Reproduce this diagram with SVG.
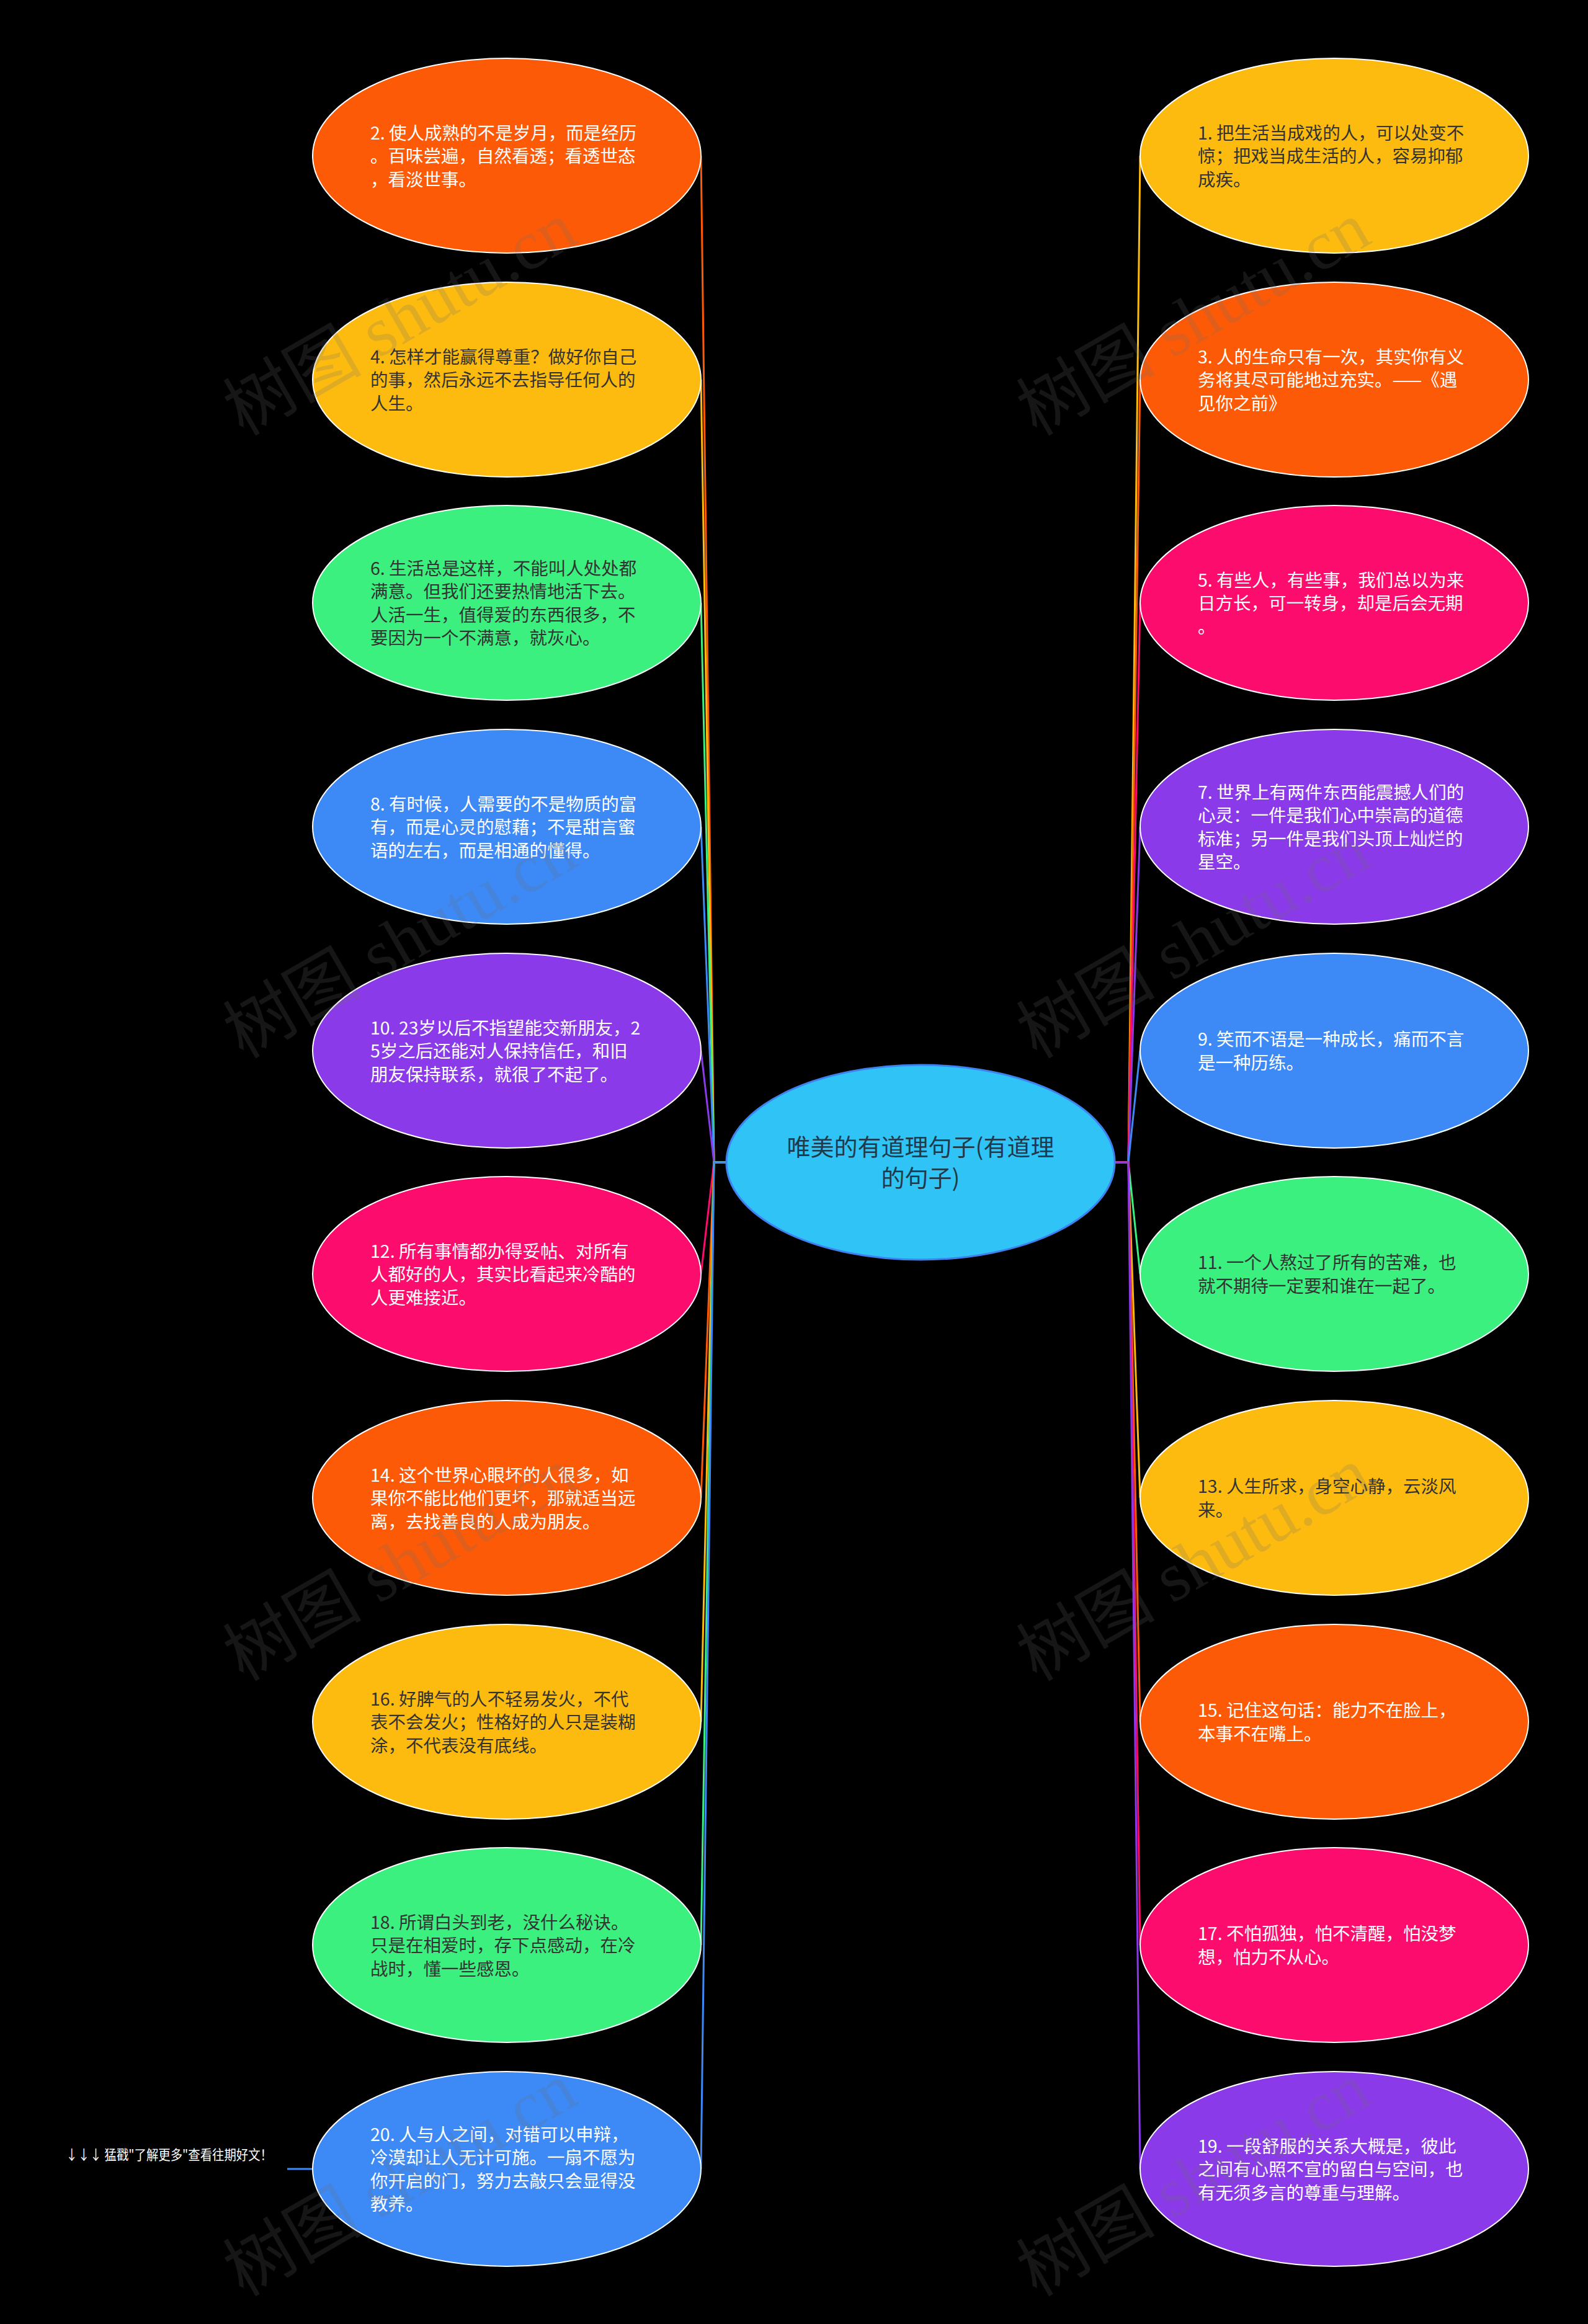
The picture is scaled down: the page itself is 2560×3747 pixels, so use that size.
<svg xmlns="http://www.w3.org/2000/svg" width="2560" height="3747" viewBox="0 0 2560 3747">
<style>
.bg{fill:#000}
.n{stroke:#ffffff;stroke-width:2}
.or{fill:#fd5a08}.ye{fill:#fdbb10}.gr{fill:#3cf080}.bl{fill:#3d8af7}.pu{fill:#8a3ae8}.pk{fill:#fc0c6c}
.t{font-family:"Noto Sans CJK SC","Noto Sans",sans-serif;font-size:28.5px;dominant-baseline:central}
.w{fill:#ffffff}.d{fill:#333333}
.c{fill:none;stroke-width:3;stroke-linejoin:round}
.cor{stroke:#fd5a08}.cye{stroke:#fdbb10}.cgr{stroke:#3cf080}.cbl{stroke:#3d8af7}.cpu{stroke:#8a3ae8}.cpk{stroke:#fc0c6c}
.wm{font-family:"Liberation Serif","Noto Sans CJK SC",serif;font-size:112px;fill:#6e6e6e;opacity:0.2;text-anchor:middle;dominant-baseline:central}
</style>
<rect class="bg" x="0" y="0" width="2560" height="3747"/>
<g id="connectors">
<path class="c cor" d="M1171 1874 L1151 1874 L1130 251"/>
<path class="c cye" d="M1171 1874 L1151 1874 L1130 612"/>
<path class="c cgr" d="M1171 1874 L1151 1874 L1130 972"/>
<path class="c cbl" d="M1171 1874 L1151 1874 L1130 1333"/>
<path class="c cpu" d="M1171 1874 L1151 1874 L1130 1694"/>
<path class="c cpk" d="M1171 1874 L1151 1874 L1130 2054"/>
<path class="c cor" d="M1171 1874 L1151 1874 L1130 2415"/>
<path class="c cye" d="M1171 1874 L1151 1874 L1130 2776"/>
<path class="c cgr" d="M1171 1874 L1151 1874 L1130 3136"/>
<path class="c cbl" d="M1171 1874 L1151 1874 L1130 3497"/>
<path class="c cye" d="M1797 1874 L1819 1874 L1838 251"/>
<path class="c cor" d="M1797 1874 L1819 1874 L1838 612"/>
<path class="c cpk" d="M1797 1874 L1819 1874 L1838 972"/>
<path class="c cpu" d="M1797 1874 L1819 1874 L1838 1333"/>
<path class="c cbl" d="M1797 1874 L1819 1874 L1838 1694"/>
<path class="c cgr" d="M1797 1874 L1819 1874 L1838 2054"/>
<path class="c cye" d="M1797 1874 L1819 1874 L1838 2415"/>
<path class="c cor" d="M1797 1874 L1819 1874 L1838 2776"/>
<path class="c cpk" d="M1797 1874 L1819 1874 L1838 3136"/>
<path class="c cpu" d="M1797 1874 L1819 1874 L1838 3497"/>
<path class="c cbl" d="M505 3497 L463 3497"/>
</g>
<g id="center">
<ellipse cx="1484" cy="1874" rx="313" ry="157" fill="#30c3f6" stroke="#3d82f0" stroke-width="3"/>
<text font-family="'Noto Sans CJK SC','Noto Sans',sans-serif" font-size="38" fill="#1f3a4a" text-anchor="middle" dominant-baseline="central"><tspan x="1484" y="1846">唯美的有道理句子(有道理</tspan><tspan x="1484" y="1896">的句子)</tspan></text>
</g>
<g id="n2"><ellipse class="n or" cx="817" cy="251" rx="313" ry="157"/><text class="t w"><tspan x="597" y="212">2. 使人成熟的不是岁月，而是经历</tspan><tspan x="597" y="249">。百味尝遍，自然看透；看透世态</tspan><tspan x="597" y="287">，看淡世事。</tspan></text></g>
<g id="n4"><ellipse class="n ye" cx="817" cy="612" rx="313" ry="157"/><text class="t d"><tspan x="597" y="573">4. 怎样才能赢得尊重？做好你自己</tspan><tspan x="597" y="610">的事，然后永远不去指导任何人的</tspan><tspan x="597" y="648">人生。</tspan></text></g>
<g id="n6"><ellipse class="n gr" cx="817" cy="972" rx="313" ry="157"/><text class="t d"><tspan x="597" y="914">6. 生活总是这样，不能叫人处处都</tspan><tspan x="597" y="951">满意。但我们还要热情地活下去。</tspan><tspan x="597" y="989">人活一生，值得爱的东西很多，不</tspan><tspan x="597" y="1026">要因为一个不满意，就灰心。</tspan></text></g>
<g id="n8"><ellipse class="n bl" cx="817" cy="1333" rx="313" ry="157"/><text class="t w"><tspan x="597" y="1294">8. 有时候，人需要的不是物质的富</tspan><tspan x="597" y="1331">有，而是心灵的慰藉；不是甜言蜜</tspan><tspan x="597" y="1369">语的左右，而是相通的懂得。</tspan></text></g>
<g id="n10"><ellipse class="n pu" cx="817" cy="1694" rx="313" ry="157"/><text class="t w"><tspan x="597" y="1655">10. 23岁以后不指望能交新朋友，2</tspan><tspan x="597" y="1692">5岁之后还能对人保持信任，和旧</tspan><tspan x="597" y="1730">朋友保持联系，就很了不起了。</tspan></text></g>
<g id="n12"><ellipse class="n pk" cx="817" cy="2054" rx="313" ry="157"/><text class="t w"><tspan x="597" y="2015">12. 所有事情都办得妥帖、对所有</tspan><tspan x="597" y="2052">人都好的人，其实比看起来冷酷的</tspan><tspan x="597" y="2090">人更难接近。</tspan></text></g>
<g id="n14"><ellipse class="n or" cx="817" cy="2415" rx="313" ry="157"/><text class="t w"><tspan x="597" y="2376">14. 这个世界心眼坏的人很多，如</tspan><tspan x="597" y="2413">果你不能比他们更坏，那就适当远</tspan><tspan x="597" y="2451">离，去找善良的人成为朋友。</tspan></text></g>
<g id="n16"><ellipse class="n ye" cx="817" cy="2776" rx="313" ry="157"/><text class="t d"><tspan x="597" y="2737">16. 好脾气的人不轻易发火，不代</tspan><tspan x="597" y="2774">表不会发火；性格好的人只是装糊</tspan><tspan x="597" y="2812">涂，不代表没有底线。</tspan></text></g>
<g id="n18"><ellipse class="n gr" cx="817" cy="3136" rx="313" ry="157"/><text class="t d"><tspan x="597" y="3097">18. 所谓白头到老，没什么秘诀。</tspan><tspan x="597" y="3134">只是在相爱时，存下点感动，在冷</tspan><tspan x="597" y="3172">战时，懂一些感恩。</tspan></text></g>
<g id="n20"><ellipse class="n bl" cx="817" cy="3497" rx="313" ry="157"/><text class="t w"><tspan x="597" y="3439">20. 人与人之间，对错可以申辩，</tspan><tspan x="597" y="3476">冷漠却让人无计可施。一扇不愿为</tspan><tspan x="597" y="3514">你开启的门，努力去敲只会显得没</tspan><tspan x="597" y="3551">教养。</tspan></text></g>
<g id="n1"><ellipse class="n ye" cx="2151" cy="251" rx="313" ry="157"/><text class="t d"><tspan x="1931" y="212">1. 把生活当成戏的人，可以处变不</tspan><tspan x="1931" y="249">惊；把戏当成生活的人，容易抑郁</tspan><tspan x="1931" y="287">成疾。</tspan></text></g>
<g id="n3"><ellipse class="n or" cx="2151" cy="612" rx="313" ry="157"/><text class="t w"><tspan x="1931" y="573">3. 人的生命只有一次，其实你有义</tspan><tspan x="1931" y="610">务将其尽可能地过充实。——《遇</tspan><tspan x="1931" y="648">见你之前》</tspan></text></g>
<g id="n5"><ellipse class="n pk" cx="2151" cy="972" rx="313" ry="157"/><text class="t w"><tspan x="1931" y="933">5. 有些人，有些事，我们总以为来</tspan><tspan x="1931" y="970">日方长，可一转身，却是后会无期</tspan><tspan x="1931" y="1008">。</tspan></text></g>
<g id="n7"><ellipse class="n pu" cx="2151" cy="1333" rx="313" ry="157"/><text class="t w"><tspan x="1931" y="1275">7. 世界上有两件东西能震撼人们的</tspan><tspan x="1931" y="1312">心灵：一件是我们心中崇高的道德</tspan><tspan x="1931" y="1350">标准；另一件是我们头顶上灿烂的</tspan><tspan x="1931" y="1387">星空。</tspan></text></g>
<g id="n9"><ellipse class="n bl" cx="2151" cy="1694" rx="313" ry="157"/><text class="t w"><tspan x="1931" y="1673">9. 笑而不语是一种成长，痛而不言</tspan><tspan x="1931" y="1711">是一种历练。</tspan></text></g>
<g id="n11"><ellipse class="n gr" cx="2151" cy="2054" rx="313" ry="157"/><text class="t d"><tspan x="1931" y="2033">11. 一个人熬过了所有的苦难，也</tspan><tspan x="1931" y="2071">就不期待一定要和谁在一起了。</tspan></text></g>
<g id="n13"><ellipse class="n ye" cx="2151" cy="2415" rx="313" ry="157"/><text class="t d"><tspan x="1931" y="2394">13. 人生所求，身空心静，云淡风</tspan><tspan x="1931" y="2432">来。</tspan></text></g>
<g id="n15"><ellipse class="n or" cx="2151" cy="2776" rx="313" ry="157"/><text class="t w"><tspan x="1931" y="2755">15. 记住这句话：能力不在脸上，</tspan><tspan x="1931" y="2793">本事不在嘴上。</tspan></text></g>
<g id="n17"><ellipse class="n pk" cx="2151" cy="3136" rx="313" ry="157"/><text class="t w"><tspan x="1931" y="3115">17. 不怕孤独，怕不清醒，怕没梦</tspan><tspan x="1931" y="3153">想，怕力不从心。</tspan></text></g>
<g id="n19"><ellipse class="n pu" cx="2151" cy="3497" rx="313" ry="157"/><text class="t w"><tspan x="1931" y="3458">19. 一段舒服的关系大概是，彼此</tspan><tspan x="1931" y="3495">之间有心照不宣的留白与空间，也</tspan><tspan x="1931" y="3533">有无须多言的尊重与理解。</tspan></text></g>
<g id="more"><text x="106" y="3472" font-family="'Noto Sans CJK SC','Noto Sans',sans-serif" font-size="22" fill="#ffffff" dominant-baseline="central" textLength="333" lengthAdjust="spacingAndGlyphs">↓↓↓ 猛戳"了解更多"查看往期好文！</text></g>
<g id="watermarks">
<text class="wm" x="645" y="514" transform="rotate(-30 645 514)">树图 shutu.cn</text>
<text class="wm" x="1924" y="514" transform="rotate(-30 1924 514)">树图 shutu.cn</text>
<text class="wm" x="645" y="1518" transform="rotate(-30 645 1518)">树图 shutu.cn</text>
<text class="wm" x="1924" y="1518" transform="rotate(-30 1924 1518)">树图 shutu.cn</text>
<text class="wm" x="645" y="2522" transform="rotate(-30 645 2522)">树图 shutu.cn</text>
<text class="wm" x="1924" y="2522" transform="rotate(-30 1924 2522)">树图 shutu.cn</text>
<text class="wm" x="645" y="3514" transform="rotate(-30 645 3514)">树图 shutu.cn</text>
<text class="wm" x="1924" y="3514" transform="rotate(-30 1924 3514)">树图 shutu.cn</text>
</g>
</svg>
